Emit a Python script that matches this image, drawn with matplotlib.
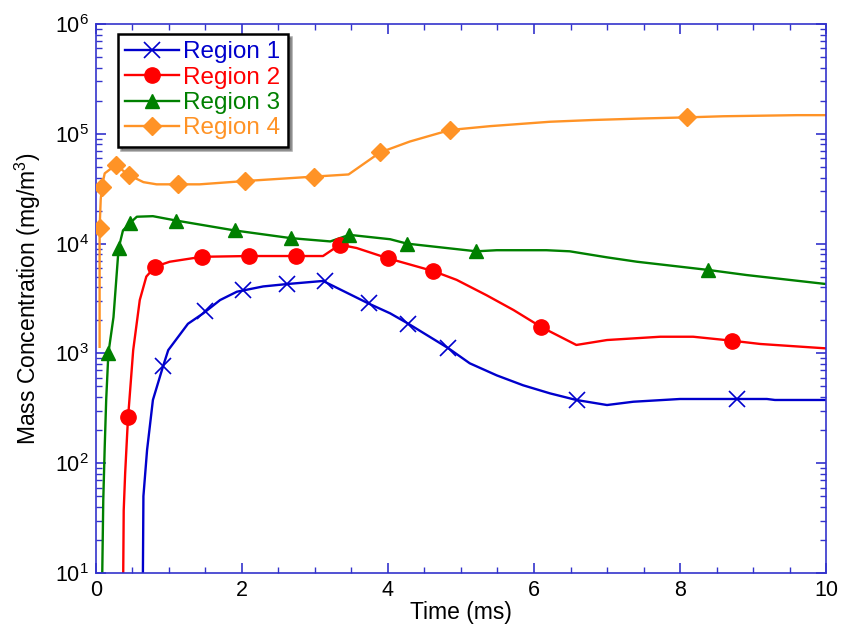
import matplotlib
matplotlib.use("Agg")
import matplotlib.pyplot as plt
from matplotlib.ticker import MultipleLocator, LogLocator, NullFormatter
from matplotlib.lines import Line2D

plt.rcParams['font.family'] = ['Liberation Sans', 'DejaVu Sans']
plt.rcParams['mathtext.fontset'] = 'custom'
plt.rcParams['mathtext.rm'] = 'Liberation Sans'

labels = ["Region 1", "Region 2", "Region 3", "Region 4"]
colors = ["#0000cc", "#ff0000", "#008000", "#ff9326"]

# Region 1 curve (time ms, log10 concentration)
r1_t = [0.64, 0.65, 0.70, 0.78, 0.92, 0.99, 1.26, 1.47, 1.70, 1.93, 2.29, 2.62, 3.11, 3.73, 4.03, 4.28, 4.83, 5.12, 5.49, 5.85, 6.22, 6.58, 7.0, 7.36, 8.0, 9.19, 9.3, 10.0]
r1_l = [0.7, 1.7, 2.12, 2.576, 2.885, 3.03, 3.27, 3.365, 3.486, 3.562, 3.61, 3.632, 3.66, 3.456, 3.365, 3.27, 3.046, 2.91, 2.80, 2.71, 2.636, 2.576, 2.53, 2.56, 2.585, 2.585, 2.576, 2.576]
r1_mt = [0.92, 1.49, 2.01, 2.62, 3.14, 3.74, 4.27, 4.82, 6.59, 8.78]
r1_ml = [2.885, 3.386, 3.577, 3.632, 3.659, 3.459, 3.268, 3.049, 2.576, 2.585]

# Region 2
r2_t = [0.37, 0.38, 0.40, 0.43, 0.44, 0.51, 0.60, 0.69, 0.81, 1.01, 1.45, 2.09, 2.74, 3.11, 3.34, 3.57, 4.0, 4.62, 4.94, 5.35, 5.72, 6.1, 6.58, 7.0, 7.73, 8.18, 8.71, 9.1, 10.0]
r2_l = [0.7, 1.57, 1.91, 2.30, 2.418, 3.03, 3.486, 3.70, 3.79, 3.835, 3.88, 3.887, 3.887, 3.887, 3.99, 3.96, 3.866, 3.75, 3.67, 3.53, 3.395, 3.24, 3.077, 3.122, 3.152, 3.152, 3.116, 3.086, 3.046]
r2_mt = [0.44, 0.81, 1.45, 2.09, 2.74, 3.34, 4.0, 4.62, 6.1, 8.71]
r2_ml = [2.418, 3.79, 3.88, 3.887, 3.887, 3.99, 3.866, 3.75, 3.24, 3.116]

# Region 3
r3_t = [0.08, 0.10, 0.12, 0.14, 0.17, 0.24, 0.31, 0.37, 0.47, 0.56, 0.78, 1.10, 1.90, 2.67, 3.21, 3.47, 4.03, 4.26, 5.21, 5.49, 6.17, 6.49, 7.0, 7.41, 8.0, 8.39, 8.91, 10.0]
r3_l = [0.7, 1.66, 2.15, 2.576, 3.0, 3.33, 3.957, 4.12, 4.19, 4.245, 4.25, 4.21, 4.12, 4.05, 4.02, 4.08, 4.04, 4.0, 3.93, 3.94, 3.94, 3.93, 3.875, 3.835, 3.79, 3.76, 3.714, 3.632]
r3_mt = [0.17, 0.31, 0.47, 1.10, 1.90, 2.67, 3.47, 4.26, 5.21, 8.39]
r3_ml = [3.0, 3.957, 4.19, 4.21, 4.12, 4.05, 4.08, 4.0, 3.93, 3.76]

# Region 4
r4_t = [0.05, 0.05, 0.065, 0.08, 0.12, 0.27, 0.45, 0.65, 0.83, 1.12, 1.42, 2.04, 2.98, 3.46, 3.89, 4.3, 4.85, 5.4, 6.22, 6.81, 7.5, 8.1, 8.59, 9.6, 10.0]
r4_l = [3.06, 4.14, 4.40, 4.52, 4.64, 4.716, 4.625, 4.56, 4.54, 4.54, 4.54, 4.57, 4.61, 4.63, 4.83, 4.93, 5.035, 5.07, 5.11, 5.126, 5.14, 5.15, 5.16, 5.17, 5.17]
r4_mt = [0.05, 0.08, 0.27, 0.45, 1.12, 2.04, 2.98, 3.89, 4.85, 8.1]
r4_ml = [4.14, 4.52, 4.716, 4.625, 4.54, 4.57, 4.61, 4.83, 5.035, 5.15]

curves = [(r1_t, r1_l, r1_mt, r1_ml), (r2_t, r2_l, r2_mt, r2_ml),
          (r3_t, r3_l, r3_mt, r3_ml), (r4_t, r4_l, r4_mt, r4_ml)]
markers = [dict(marker='x', markersize=12, markeredgewidth=1.2),
           dict(marker='o', markersize=11),
           dict(marker='^', markersize=10),
           dict(marker='D', markersize=9)]

fig = plt.figure(figsize=(8.44, 6.29), dpi=100)
ax = fig.add_axes([0.1137, 0.0890, 0.8650, 0.8728])

handles = []
for (t, l, mt, ml), c, mk, lab in zip(curves, colors, markers, labels):
    ax.plot(t, [10 ** v for v in l], color=c, lw=1.7, zorder=2)
    ax.plot(mt, [10 ** v for v in ml], ls='none', color=c, markerfacecolor=c,
            markeredgecolor=c, zorder=3, **mk)
    handles.append(Line2D([], [], color=c, lw=1.7, markerfacecolor=c,
                          markeredgecolor=c, **mk))

ax.set_yscale('log')
ax.set_xlim(0, 10)
ax.set_ylim(10, 1e6)
ax.set_yticks([10, 100, 1e3, 1e4, 1e5, 1e6])
ax.set_yticklabels([r'$10^{%d}$' % k for k in range(1, 7)])
ax.yaxis.set_minor_locator(LogLocator(base=10, subs=range(2, 10), numticks=20))
ax.yaxis.set_minor_formatter(NullFormatter())
ax.xaxis.set_major_locator(MultipleLocator(2))
ax.xaxis.set_minor_locator(MultipleLocator(0.5))

spine_c = '#3333cc'
for s in ax.spines.values():
    s.set_color(spine_c)
    s.set_linewidth(1.2)
ax.tick_params(which='both', direction='in', top=True, right=True, color=spine_c,
               labelsize=15.5, labelcolor='black')
ax.tick_params(which='major', length=7, width=1.2, pad=5)
ax.tick_params(which='minor', length=4, width=1.0)

ax.set_xlabel('Time (ms)', fontsize=16.5, labelpad=0)
ax.set_ylabel('Mass Concentration (mg/m$^3$)', fontsize=16.5, labelpad=9)

leg = ax.legend(handles, labels, loc='upper left', bbox_to_anchor=(0.03, 0.982),
                fontsize=17.5, frameon=True, fancybox=False, shadow=True,
                handlelength=2.2, handletextpad=0.2, borderpad=0.3,
                labelspacing=0.14, borderaxespad=0)
leg.get_frame().set_edgecolor('black')
leg.get_frame().set_linewidth(1.8)
for txt, c in zip(leg.get_texts(), colors):
    txt.set_color(c)

fig.savefig('out.png', dpi=100)
